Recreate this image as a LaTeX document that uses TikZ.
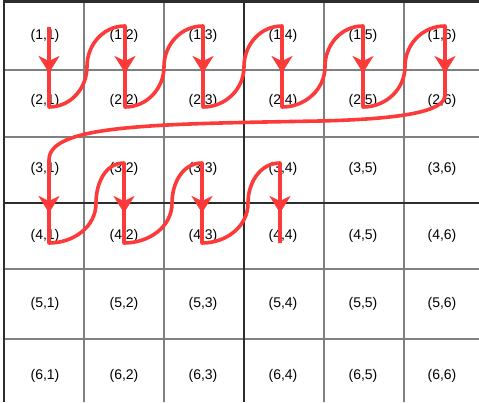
\documentclass[tikz,border=0pt]{standalone}
\usepackage{fontspec}
\setmainfont{Liberation Sans}
\usetikzlibrary{arrows.meta}
\definecolor{pathred}{RGB}{252,58,58}
\definecolor{gridgray}{RGB}{128,128,128}
\definecolor{griddark}{RGB}{45,45,45}
\tikzset{
  thin grid/.style={draw=gridgray,line width=2pt},
  bold grid/.style={draw=griddark,line width=2.6pt},
  cell label/.style={inner sep=0pt,font=\fontsize{14}{16}\selectfont},
  redline/.style={draw=pathred,line width=3.6pt,line cap=butt,line join=round},
  redhead/.style={draw=pathred,line width=3.6pt,-{Stealth[length=17pt,width=21pt,inset=5pt,fill=pathred]}},
}
\begin{document}
\begin{tikzpicture}[x=1pt,y=-1pt]
\useasboundingbox (0,0) rectangle (479,402);
% grid
\foreach \gx in {84,164,324,404} \draw[thin grid] (\gx,2) -- (\gx,402);
\foreach \gy in {70,137,269,339} \draw[thin grid] (4,\gy) -- (479,\gy);
\draw[bold grid] (4,402) -- (4,1.5) -- (479,1.5);
\draw[bold grid] (244,2) -- (244,402);
\draw[bold grid] (4,203) -- (479,203);
% labels
\foreach \r/\ry in {1/36,2/101,3/169,4/236,5/304,6/376}{
  \foreach \c/\cx in {1/45,2/124,3/203,4/283,5/363,6/442}{
    \node[cell label] (c\r\c) at (\cx,\ry) {(\r,\c)};
  }
}
% path points, rows 1-2
\foreach \c/\px in {1/49,2/125,3/203,4/282,5/363,6/445}{
  \coordinate (a\c) at (\px,26);
  \coordinate (b\c) at (\px,107);
  \coordinate (h\c) at (\px,55);
  \coordinate (k\c) at (\px,73);
}
\foreach \c/\mx in {1/87,2/164,3/244,4/325,5/405}{
  \coordinate (m\c) at (\mx,66.5);
}
% path points, rows 3-4
\foreach \c/\px in {1/49,2/124,3/202,4/280}{
  \coordinate (p\c) at (\px,163);
  \coordinate (q\c) at (\px,243);
  \coordinate (u\c) at (\px,195);
  \coordinate (v\c) at (\px,213);
}
\foreach \c/\mx in {1/96,2/172,3/248}{
  \coordinate (n\c) at (\mx,203);
}
\coordinate (start) at (49,27);
\coordinate (sweep) at (320,121);
\coordinate (drop) at (49,160);
% the red route
\draw[redline] (start) -- (b1)
  to[out=0,in=-90] (m1) to[out=90,in=180] (a2) -- (b2)
  to[out=0,in=-90] (m2) to[out=90,in=180] (a3) -- (b3)
  to[out=0,in=-90] (m3) to[out=90,in=180] (a4) -- (b4)
  to[out=0,in=-90] (m4) to[out=90,in=180] (a5) -- (b5)
  to[out=0,in=-90] (m5) to[out=90,in=180] (a6) -- (445,95)
  .. controls (445,112) and (400,119) .. (sweep)
  .. controls (150,124) and (49,125) .. (drop) -- (q1)
  to[out=0,in=-90] (n1) to[out=90,in=180] (p2) -- (q2)
  to[out=0,in=-90] (n2) to[out=90,in=180] (p3) -- (q3)
  to[out=0,in=-90] (n3) to[out=90,in=180] (p4) -- (q4);
% arrowheads
\foreach \c in {1,...,6} \draw[redhead] (h\c) -- (k\c);
\foreach \c in {1,...,4} \draw[redhead] (u\c) -- (v\c);
\end{tikzpicture}
\end{document}
